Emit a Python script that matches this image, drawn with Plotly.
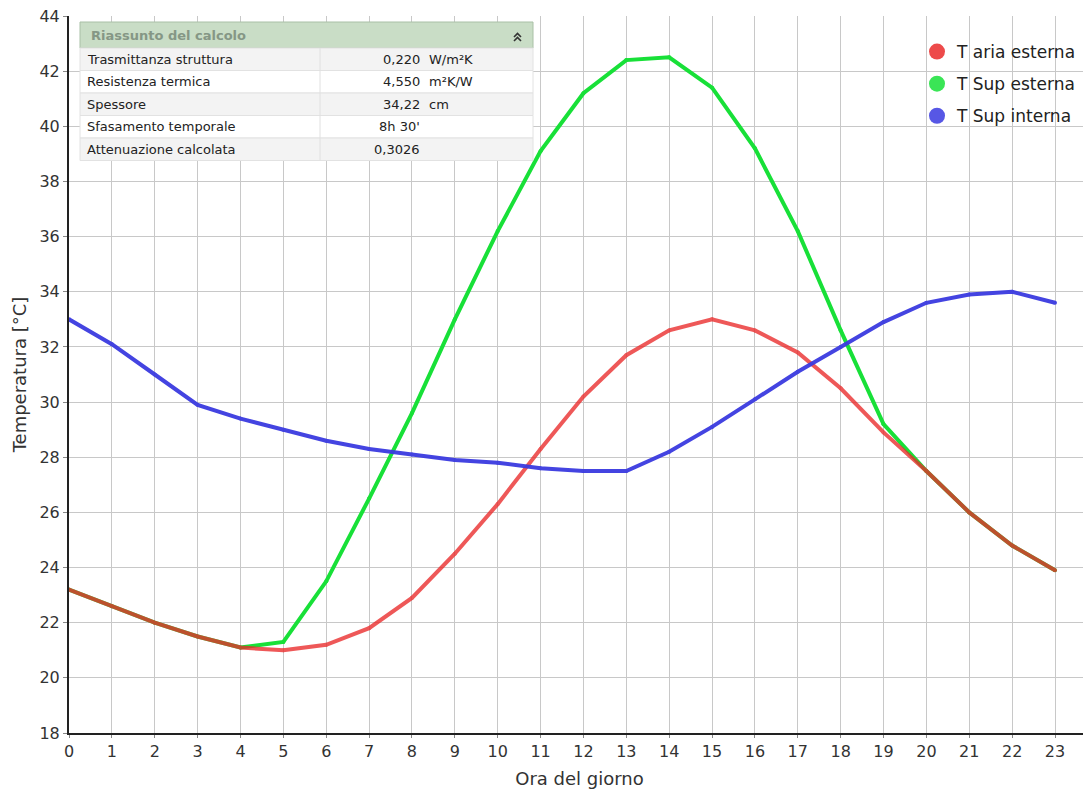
import plotly.graph_objects as go

hours = list(range(24))
t_aria_esterna = [23.2, 22.6, 22.0, 21.5, 21.1, 21.0, 21.2, 21.8, 22.9, 24.5, 26.3, 28.3,
                  30.2, 31.7, 32.6, 33.0, 32.6, 31.8, 30.5, 28.9, 27.5, 26.0, 24.8, 23.9]
t_sup_esterna = [23.2, 22.6, 22.0, 21.5, 21.1, 21.3, 23.5, 26.5, 29.6, 33.0, 36.2, 39.1,
                 41.2, 42.4, 42.5, 41.4, 39.2, 36.2, 32.6, 29.2, 27.5, 26.0, 24.8, 23.9]
t_sup_interna = [33.0, 32.1, 31.0, 29.9, 29.4, 29.0, 28.6, 28.3, 28.1, 27.9, 27.8, 27.6,
                 27.5, 27.5, 28.2, 29.1, 30.1, 31.1, 32.0, 32.9, 33.6, 33.9, 34.0, 33.6]
series_names = ["T aria esterna", "T Sup esterna", "T Sup interna"]
series_colors = ["#ea2a2a", "#18e038", "#3a3ae0"]

table_labels = ["Trasmittanza struttura", "Resistenza termica", "Spessore",
                "Sfasamento temporale", "Attenuazione calcolata"]
table_values = ["0,220", "4,550", "34,22", "8h 30'", "0,3026"]
table_units = ["W/m²K", "m²K/W", "cm", "", ""]
table_title = "Riassunto del calcolo"

# page has an 8px body margin: screen coords = figure coords + 8
OFF = 8
W, H = 1083, 781
ML, MR, MT, MB = 61, 1, 8, 56
PW, PH = W - ML - MR, H - MT - MB
FONT = "DejaVu Sans"


def px(x):
    """screen pixel x -> paper"""
    return (x - OFF - ML) / PW


def py(y):
    """screen pixel y -> paper"""
    return (H - MB - (y - OFF)) / PH


fig = go.Figure()

order = [(1, t_sup_esterna, 1.0), (0, t_aria_esterna, 0.78), (2, t_sup_interna, 0.95)]
for idx, vals, op in order:
    fig.add_trace(go.Scatter(
        x=hours, y=vals, mode="lines+markers", name=series_names[idx],
        line=dict(color=series_colors[idx], width=4),
        marker=dict(size=4, color=series_colors[idx]),
        opacity=op, showlegend=False, hoverinfo="x+y+name"))

for i, name in enumerate(series_names):
    fig.add_trace(go.Scatter(
        x=[None], y=[None], mode="markers", name=name, legendgroup=name,
        marker=dict(size=16, color=series_colors[i], opacity=0.85,
                    line=dict(width=0)),
        showlegend=True))

shapes = []
annotations = []

tx0, tx1 = 80, 533
hy0, hy1 = 22, 48
rows_y = [48, 70.5, 93, 115.5, 138, 160.5]
shapes.append(dict(type="rect", xref="paper", yref="paper",
                   x0=px(tx0), x1=px(tx1), y0=py(hy1), y1=py(hy0),
                   fillcolor="#c9ddc6", line=dict(color="#a9c0a6", width=1), layer="above"))
for i in range(5):
    fill = "#f3f3f3" if i % 2 == 0 else "#ffffff"
    shapes.append(dict(type="rect", xref="paper", yref="paper",
                       x0=px(tx0), x1=px(tx1), y0=py(rows_y[i + 1]), y1=py(rows_y[i]),
                       fillcolor=fill, line=dict(color="#e2e2e2", width=1), layer="above"))
shapes.append(dict(type="line", xref="paper", yref="paper",
                   x0=px(320), x1=px(320), y0=py(rows_y[-1]), y1=py(rows_y[0]),
                   line=dict(color="#e0e0e0", width=1), layer="above"))
for dy in (0, 4):
    shapes.append(dict(type="path", xref="paper", yref="paper",
                       path="M {} {} L {} {} L {} {}".format(
                           px(514), py(37 + dy), px(517.5), py(33.5 + dy), px(521), py(37 + dy)),
                       line=dict(color="#333333", width=1.6), layer="above"))

annotations.append(dict(xref="paper", yref="paper", x=px(89), y=py((hy0 + hy1) / 2),
                        text="<b>" + table_title + "</b>", showarrow=False,
                        xanchor="left", yanchor="middle",
                        font=dict(family=FONT, size=13, color="#859785")))
for i in range(5):
    yc = py((rows_y[i] + rows_y[i + 1]) / 2)
    annotations.append(dict(xref="paper", yref="paper", x=px(85), y=yc,
                            text=table_labels[i], showarrow=False,
                            xanchor="left", yanchor="middle",
                            font=dict(family=FONT, size=13, color="#222222")))
    annotations.append(dict(xref="paper", yref="paper", x=px(422), y=yc,
                            text=table_values[i], showarrow=False,
                            xanchor="right", yanchor="middle",
                            font=dict(family=FONT, size=13, color="#222222")))
    if table_units[i]:
        annotations.append(dict(xref="paper", yref="paper", x=px(427), y=yc,
                                text=table_units[i], showarrow=False,
                                xanchor="left", yanchor="middle",
                                font=dict(family=FONT, size=13, color="#222222")))

fig.update_layout(
    width=W, height=H,
    margin=dict(l=ML, r=MR, t=MT, b=MB, pad=0, autoexpand=False),
    paper_bgcolor="white", plot_bgcolor="white",
    font=dict(family=FONT, size=16, color="#333333"),
    shapes=shapes, annotations=annotations,
    legend=dict(x=px(917), y=py(34), xanchor="left", yanchor="top",
                bgcolor="rgba(0,0,0,0)", font=dict(family=FONT, size=17, color="#222222"),
                tracegroupgap=7, itemwidth=30),
    xaxis=dict(range=[0, PW / ((1055 - 69) / 23)], tickmode="array", tickvals=hours,
               ticktext=[str(h) for h in hours],
               showgrid=True, gridcolor="#c8c8c8", gridwidth=1,
               showline=True, linecolor="#222222", linewidth=2,
               ticks="outside", ticklen=3, tickcolor="#888888",
               zeroline=False, tickfont=dict(size=16, color="#333333"),
               ticklabeloverflow="allow", automargin=False,
               title=dict(text="Ora del giorno", standoff=12,
                          font=dict(size=18, color="#333333"))),
    yaxis=dict(range=[18, 44], tickmode="array", tickvals=list(range(18, 45, 2)),
               showgrid=True, gridcolor="#c8c8c8", gridwidth=1,
               showline=True, linecolor="#222222", linewidth=2,
               ticks="outside", ticklen=4, tickcolor="#888888",
               zeroline=False, tickfont=dict(size=16, color="#333333"),
               ticklabeloverflow="allow", automargin=False,
               title=dict(text="Temperatura [°C]", standoff=8,
                          font=dict(size=18, color="#333333"))),
)

fig.write_html("out.html")
